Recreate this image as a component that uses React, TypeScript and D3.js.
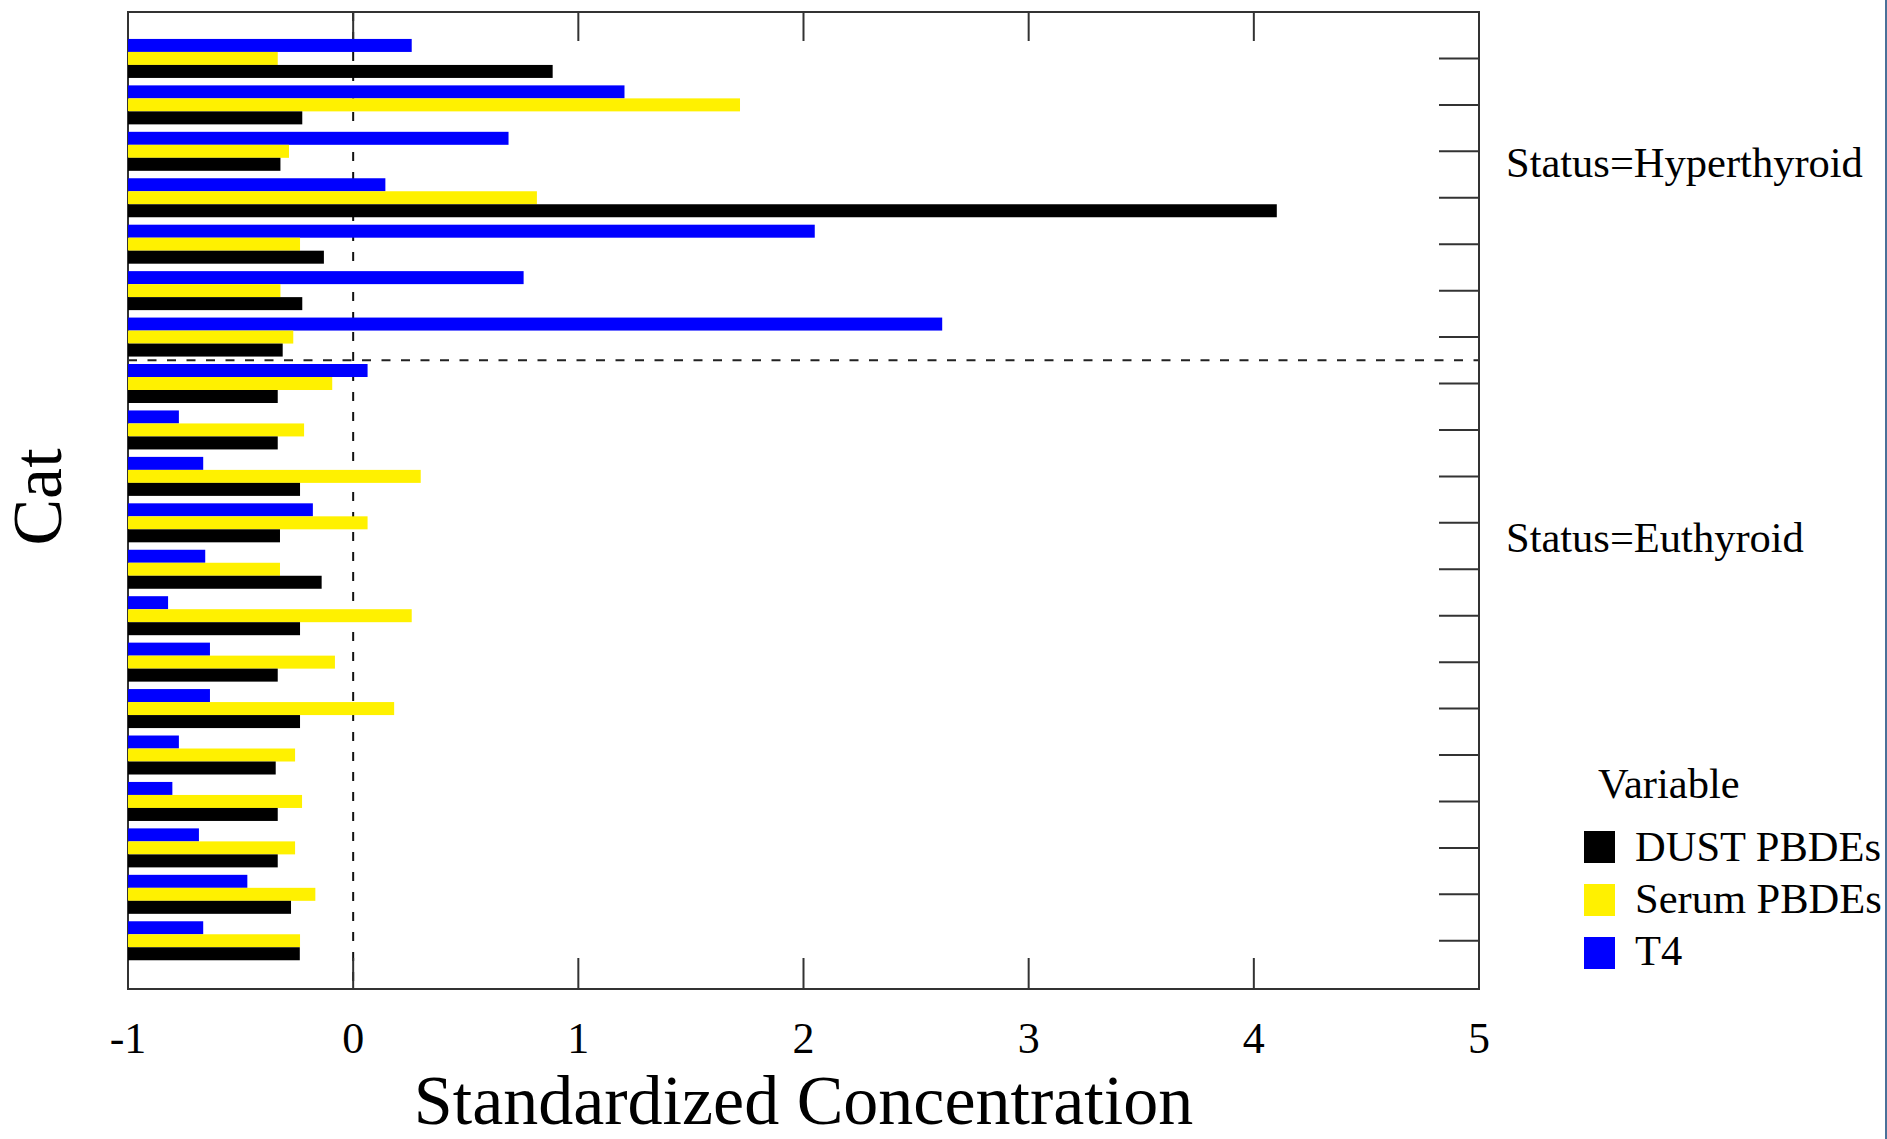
import React from "react";
import * as d3 from "d3";

// ---- data ----
const categories = [
  "H1", "H2", "H3", "H4", "H5", "H6", "H7",
  "E1", "E2", "E3", "E4", "E5", "E6", "E7", "E8", "E9", "E10", "E11", "E12", "E13",
];
const statusGroups = ["Status=Hyperthyroid", "Status=Euthyroid"];
const groupSizes = [7, 13];
const seriesNames = ["T4", "Serum PBDEs", "DUST PBDEs"];
const legendOrder = ["DUST PBDEs", "Serum PBDEs", "T4"];
const seriesColors = ["#0000FF", "#FFF100", "#000000"];

const t4Values = [
  0.26, 1.205, 0.69, 0.143, 2.05, 0.757, 2.616,
  0.064, -0.774, -0.666, -0.179, -0.657, -0.822, -0.636, -0.636, -0.774, -0.803, -0.685, -0.47, -0.666,
];
const serumValues = [
  -0.335, 1.718, -0.285, 0.816, -0.236, -0.323, -0.266,
  -0.093, -0.218, 0.3, 0.064, -0.325, 0.26, -0.081, 0.182, -0.258, -0.227, -0.258, -0.168, -0.236,
];
const dustValues = [
  0.886, -0.226, -0.323, 4.102, -0.13, -0.226, -0.313,
  -0.335, -0.335, -0.236, -0.325, -0.14, -0.236, -0.335, -0.236, -0.344, -0.335, -0.335, -0.276, -0.237,
];
const xTicks = [-1, 0, 1, 2, 3, 4, 5];
const xDomain = [-1, 5];

const FONT = "'Liberation Serif', 'Times New Roman', serif";

export default function App() {
  const W = 1887;
  const H = 1139;
  const left = 128;
  const right = 1479;
  const top = 12;
  const bottom = 989;
  const axisColor = "#333333";

  const x = d3.scaleLinear().domain(xDomain).range([left, right]);
  const y = d3.scalePoint<string>().domain(categories).range([top, bottom - 1.8]).padding(1);
  const inner = d3.scaleBand<string>().domain(seriesNames).range([-19.5, 19.5]).padding(0);

  const valuesBySeries: Record<string, number[]> = {
    "T4": t4Values,
    "Serum PBDEs": serumValues,
    "DUST PBDEs": dustValues,
  };
  const color = d3.scaleOrdinal<string, string>().domain(seriesNames).range(seriesColors);

  const sepIdx = groupSizes[0];
  const sepY = ((y(categories[sepIdx - 1]) as number) + (y(categories[sepIdx]) as number)) / 2;

  const statusBaselines = [177, 552];
  const labelX = 1506;

  return (
    <svg
      width={W}
      height={H}
      style={{ position: "absolute", left: 0, top: 0, background: "#fff" }}
      fontFamily={FONT}
    >
      <rect x={0} y={0} width={W} height={H} fill="#ffffff" />
      <line x1={W - 1} x2={W - 1} y1={0} y2={H} stroke="#4a7199" strokeWidth={2} />

      {/* reference dashed lines (behind bars) */}
      <line x1={x(0)} x2={x(0)} y1={top} y2={bottom} stroke="#111" strokeWidth={2} strokeDasharray="9 11" />
      <line x1={left} x2={right} y1={sepY} y2={sepY} stroke="#222" strokeWidth={2} strokeDasharray="9 10.5" />

      {/* frame */}
      <rect x={left} y={top} width={right - left} height={bottom - top} fill="none" stroke={axisColor} strokeWidth={2} />

      {xTicks.map((t) => (
        <g key={"xt" + t}>
          <line x1={x(t)} x2={x(t)} y1={top} y2={top + 29} stroke={axisColor} strokeWidth={2} />
          <line x1={x(t)} x2={x(t)} y1={bottom} y2={bottom - 31} stroke={axisColor} strokeWidth={2} />
          <text x={x(t)} y={1052.5} textAnchor="middle" fontSize={44} fill="#000">
            {t}
          </text>
        </g>
      ))}

      {categories.map((c) => (
        <line key={"yt" + c} x1={right - 40} x2={right} y1={y(c)} y2={y(c)} stroke={axisColor} strokeWidth={2} />
      ))}

      {/* bars */}
      {seriesNames.map((s) => (
        <g key={s} fill={color(s)}>
          {categories.map((c, i) => {
            const v = valuesBySeries[s][i];
            const y0 = (y(c) as number) + (inner(s) as number);
            return (
              <rect
                key={c}
                x={x(-1)}
                y={y0}
                width={x(v) - x(-1)}
                height={inner.bandwidth()}
              />
            );
          })}
        </g>
      ))}

      {statusGroups.map((g, i) => (
        <text key={g} x={labelX} y={statusBaselines[i]} fontSize={42.5} fill="#000">
          {g}
        </text>
      ))}

      <text x={(left + right) / 2} y={1124} textAnchor="middle" fontSize={70} fill="#000">
        Standardized Concentration
      </text>
      <text transform="translate(61,497) rotate(-90)" textAnchor="middle" fontSize={70} fill="#000">
        Cat
      </text>

      <text x={1598} y={798} fontSize={42.5} fill="#000">
        Variable
      </text>
      {legendOrder.map((s, i) => (
        <g key={"lg" + s}>
          <rect x={1584} y={831 + i * 53} width={31} height={32} fill={color(s)} />
          <text x={1635} y={861 + i * 52.2} fontSize={42.5} fill="#000">
            {s}
          </text>
        </g>
      ))}
    </svg>
  );
}
